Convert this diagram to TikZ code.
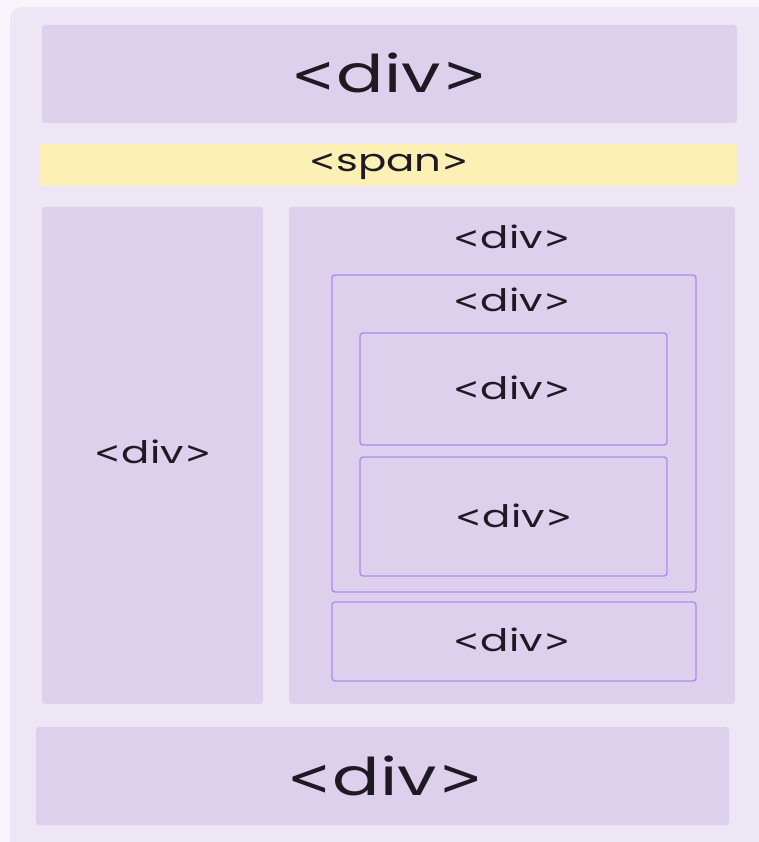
\documentclass[tikz,border=0pt]{standalone}
\usepackage{fontspec}
\setmainfont{Poppins}
\newfontfamily\bracketfont{DejaVu Sans}
\definecolor{pagebg}{HTML}{F7F4FB}
\definecolor{shellbg}{HTML}{ECE6F5}
\definecolor{boxfill}{HTML}{DDD0EC}
\definecolor{spanfill}{HTML}{FCF0B4}
\definecolor{boxline}{HTML}{A88DEE}
\definecolor{txt}{HTML}{1E1A24}
\tikzset{
  x=1pt, y=-1pt,
  block/.style={fill=boxfill, rounded corners=3pt},
  outlined/.style={fill=boxfill, draw=boxline, line width=1.4pt, rounded corners=3pt},
  spanbox/.style={fill=spanfill, rounded corners=3pt},
  bigtag/.style={anchor=base, text=txt, inner sep=0pt, font=\fontsize{52}{52}\selectfont},
  tag/.style={anchor=base, text=txt, inner sep=0pt, font=\fontsize{31}{31}\selectfont},
}
% tag name set wide, between wide angle brackets
\newcommand{\htmltag}[1]{{\bracketfont<}\kern0.04em\scalebox{1.35}[1]{#1}\kern0.04em{\bracketfont>}}
\begin{document}
\begin{tikzpicture}
  \useasboundingbox (0,0) rectangle (759,842);
  % page and outer shell
  \fill[pagebg] (0,0) rectangle (759,842);
  \fill[shellbg, rounded corners=12pt] (10,7) rectangle (790,880);

  % header and inline strip
  \fill[block] (42,25) rectangle (737,123);
  \fill[spanbox] (40,144) rectangle (737,186);

  % two columns
  \fill[block] (42,207) rectangle (263,704);
  \fill[block] (289,207) rectangle (735,704);

  % nested containers in the right column
  \filldraw[outlined] (332,275) rectangle (696,592);
  \filldraw[outlined] (360,333) rectangle (667,445);
  \filldraw[outlined] (360,457) rectangle (667,576);
  \filldraw[outlined] (332,602) rectangle (696,681);

  % footer
  \fill[block] (36,727) rectangle (729,825);

  % labels
  \node[bigtag] (hdr) at (389,93) {\htmltag{div}};
  \node[tag] (spn) at (389,172) {\htmltag{span}};
  \node[tag] (lcol) at (153,463) {\htmltag{div}};
  \node[tag] (rcol) at (512,248) {\htmltag{div}};
  \node[tag] (nest) at (512,311) {\htmltag{div}};
  \node[tag] (nestA) at (512,399) {\htmltag{div}};
  \node[tag] (nestB) at (514,527) {\htmltag{div}};
  \node[tag] (low) at (512,651) {\htmltag{div}};
  \node[bigtag] (ftr) at (385,795) {\htmltag{div}};
\end{tikzpicture}
\end{document}
